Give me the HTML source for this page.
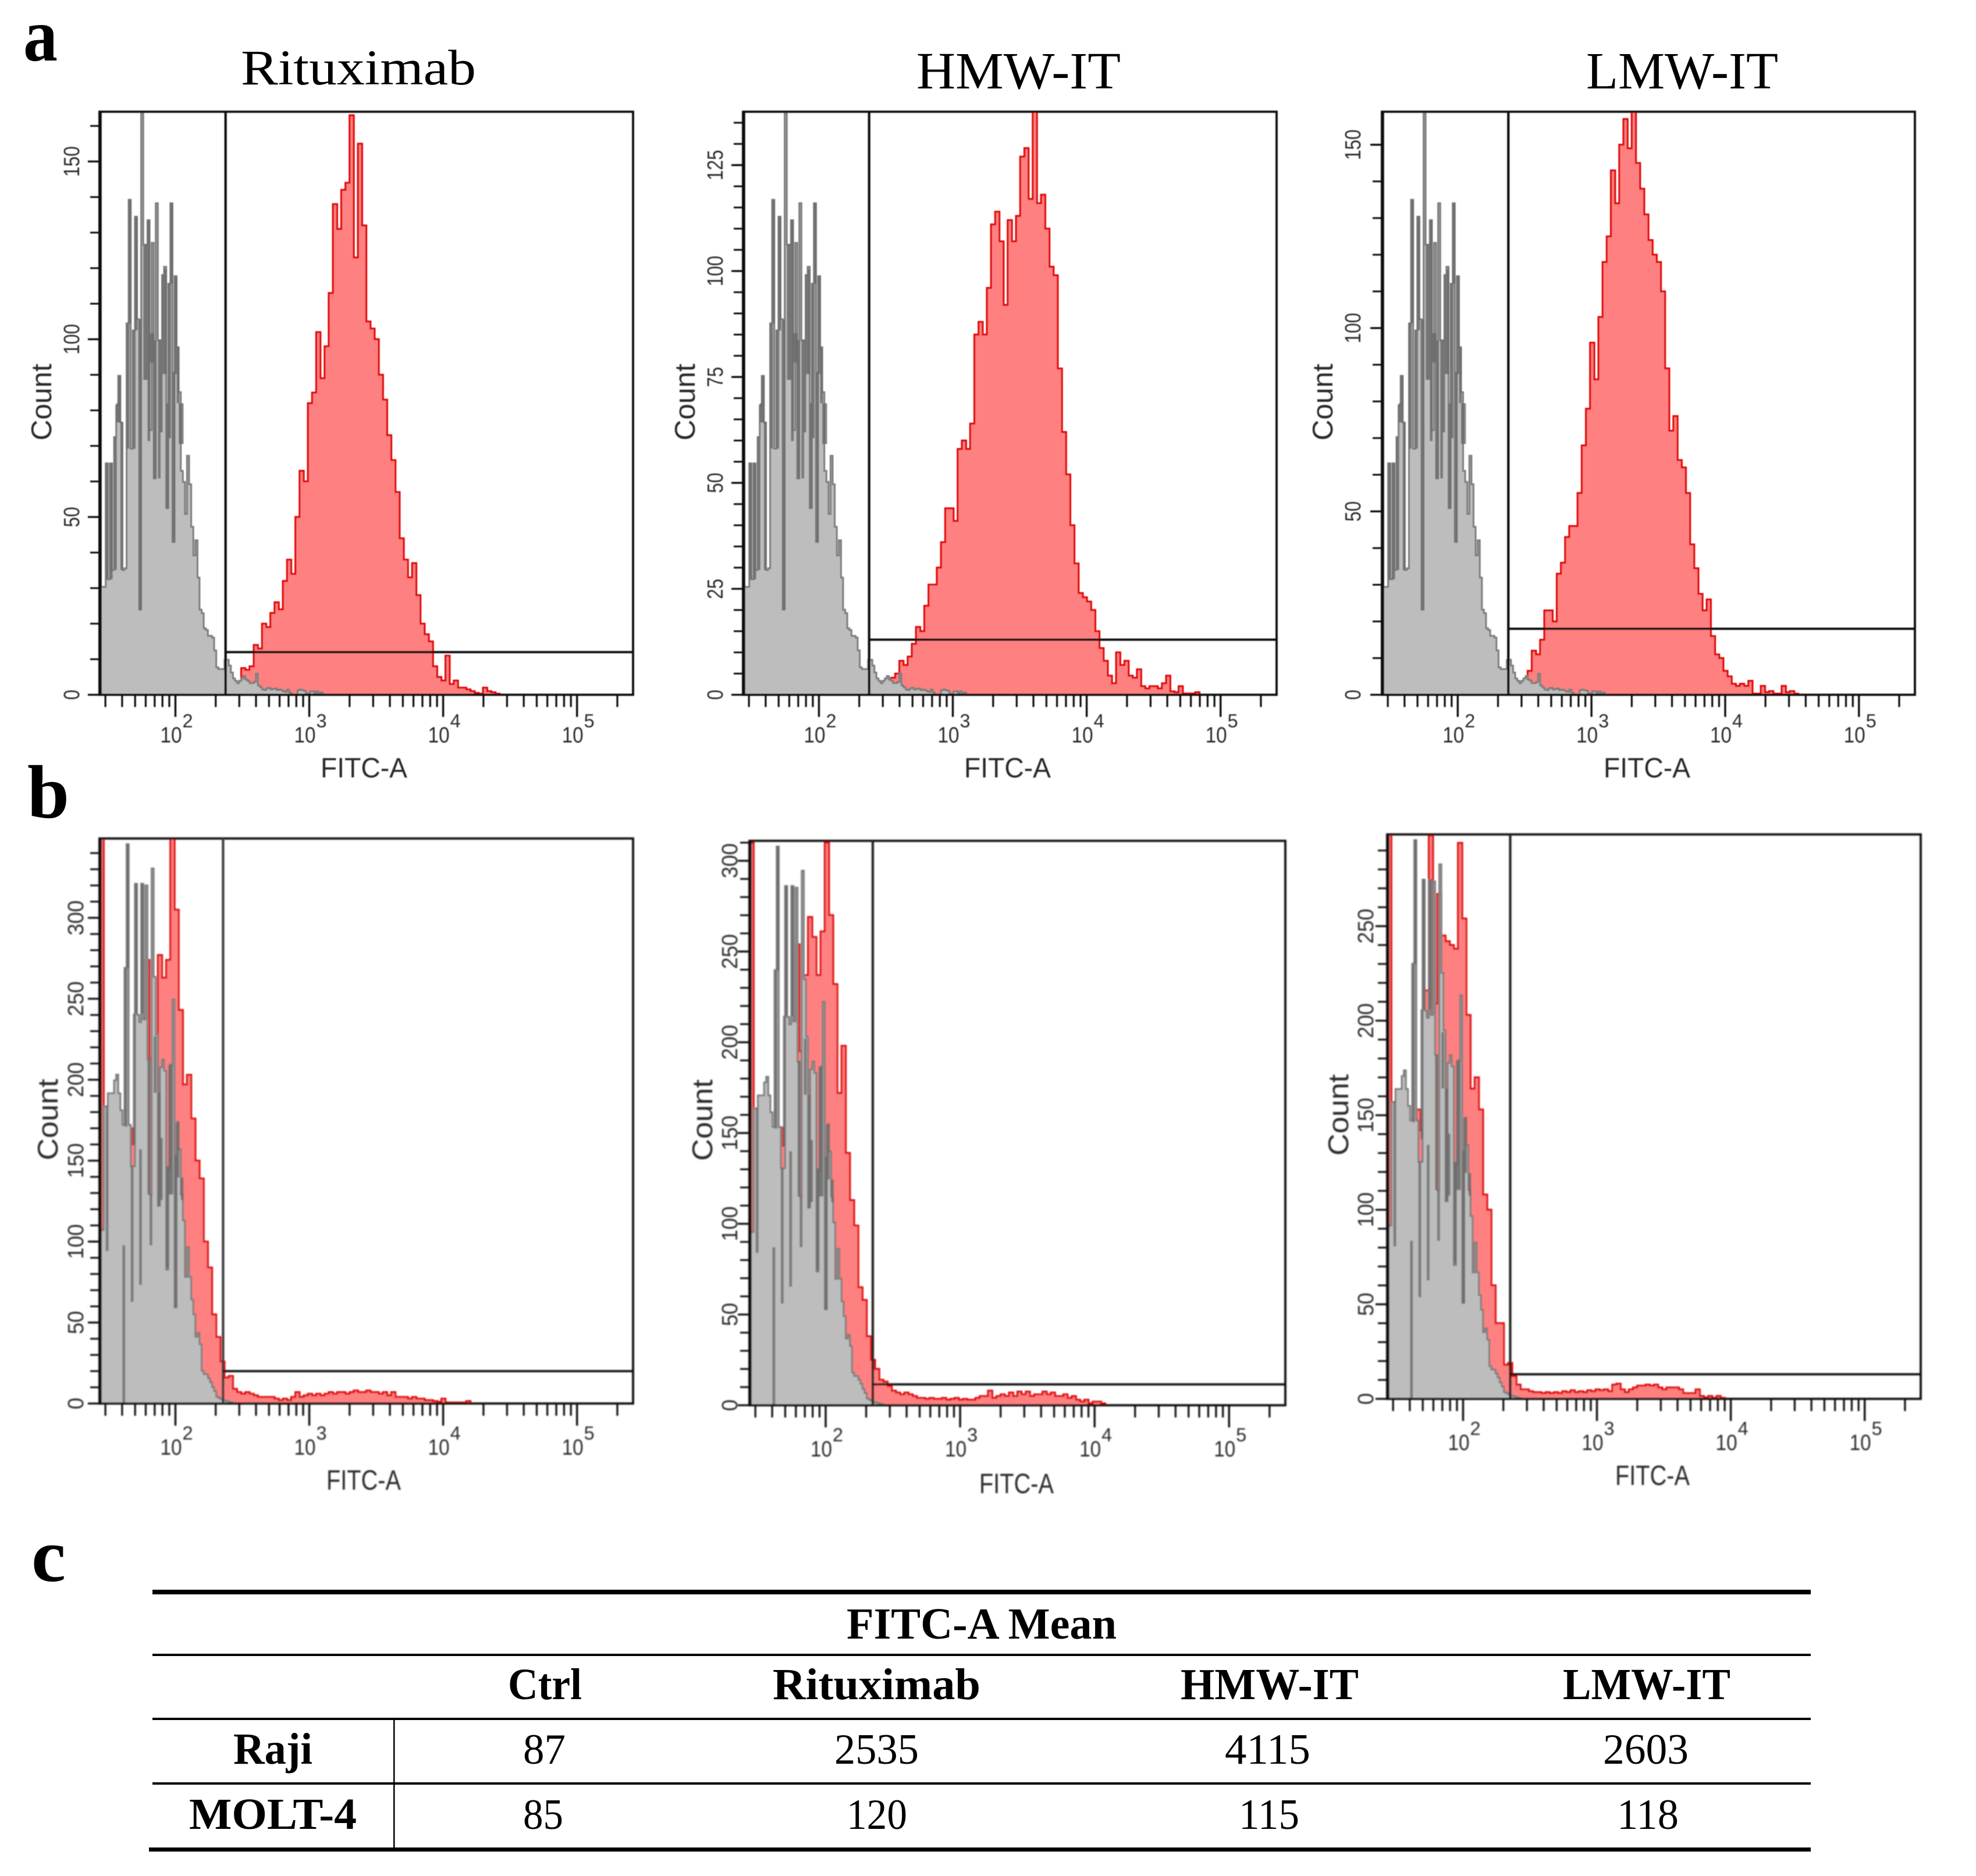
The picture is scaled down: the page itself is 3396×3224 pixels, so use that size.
<!DOCTYPE html>
<html lang="en">
<head>
<meta charset="utf-8">
<title>FITC-A flow cytometry histograms</title>
<style>
html,body{margin:0;padding:0;background:#fff;}
svg{display:block;}
.serif{font-family:"Liberation Serif",serif;fill:#000;}
.sans{font-family:"Liberation Sans",sans-serif;fill:#2a2a2a;}
</style>
</head>
<body>
<svg id="figure" xmlns="http://www.w3.org/2000/svg" width="3396" height="3224" viewBox="0 0 3396 3224">
  <defs>
    <filter id="soft" filterUnits="userSpaceOnUse" x="0" y="0" width="3396" height="3224"><feGaussianBlur stdDeviation="0.8"/></filter>
    <filter id="softer" filterUnits="userSpaceOnUse" x="0" y="0" width="3396" height="3224"><feGaussianBlur stdDeviation="1.1"/></filter>
  </defs>
  <rect width="3396" height="3224" fill="#fff"/>

  <text class="serif" x="40" y="104" font-size="130" font-weight="bold" textLength="59" lengthAdjust="spacingAndGlyphs">a</text>
  <text class="serif" x="47" y="1405" font-size="130" font-weight="bold" textLength="72" lengthAdjust="spacingAndGlyphs">b</text>
  <text class="serif" x="54" y="2717" font-size="130" font-weight="bold" textLength="59" lengthAdjust="spacingAndGlyphs">c</text>

  <text class="serif" x="414" y="145" font-size="86" textLength="404" lengthAdjust="spacingAndGlyphs">Rituximab</text>
  <text class="serif" x="1575" y="152" font-size="90" textLength="351" lengthAdjust="spacingAndGlyphs">HMW-IT</text>
  <text class="serif" x="2726" y="152" font-size="90" textLength="330" lengthAdjust="spacingAndGlyphs">LMW-IT</text>

  <g id="charts"></g>

  <g>
    <rect x="262" y="2732" width="2850" height="8" fill="#000"/>
    <rect x="262" y="2842" width="2850" height="4" fill="#000"/>
    <rect x="262" y="2952" width="2850" height="4" fill="#000"/>
    <rect x="262" y="3063" width="2850" height="4" fill="#000"/>
    <rect x="256" y="3175" width="2856" height="7" fill="#000"/>
    <rect x="676" y="2955" width="2.5" height="220" fill="#000"/>

    <text class="serif" x="1455" y="2816" font-size="76" font-weight="bold" textLength="464" lengthAdjust="spacingAndGlyphs">FITC-A Mean</text>
    <text class="serif" x="873" y="2920" font-size="76" font-weight="bold" textLength="127" lengthAdjust="spacingAndGlyphs">Ctrl</text>
    <text class="serif" x="1328" y="2920" font-size="76" font-weight="bold" textLength="357" lengthAdjust="spacingAndGlyphs">Rituximab</text>
    <text class="serif" x="2029" y="2920" font-size="76" font-weight="bold" textLength="306" lengthAdjust="spacingAndGlyphs">HMW-IT</text>
    <text class="serif" x="2686" y="2920" font-size="76" font-weight="bold" textLength="288" lengthAdjust="spacingAndGlyphs">LMW-IT</text>

    <text class="serif" x="401" y="3031" font-size="76" font-weight="bold" textLength="136" lengthAdjust="spacingAndGlyphs">Raji</text>
    <text class="serif" x="899" y="3031" font-size="74" textLength="73" lengthAdjust="spacingAndGlyphs">87</text>
    <text class="serif" x="1434" y="3031" font-size="74" textLength="145" lengthAdjust="spacingAndGlyphs">2535</text>
    <text class="serif" x="2105" y="3031" font-size="74" textLength="147" lengthAdjust="spacingAndGlyphs">4115</text>
    <text class="serif" x="2755" y="3031" font-size="74" textLength="147" lengthAdjust="spacingAndGlyphs">2603</text>

    <text class="serif" x="325" y="3143" font-size="76" font-weight="bold" textLength="288" lengthAdjust="spacingAndGlyphs">MOLT-4</text>
    <text class="serif" x="899" y="3143" font-size="74" textLength="69" lengthAdjust="spacingAndGlyphs">85</text>
    <text class="serif" x="1455" y="3143" font-size="74" textLength="104" lengthAdjust="spacingAndGlyphs">120</text>
    <text class="serif" x="2129" y="3143" font-size="74" textLength="104" lengthAdjust="spacingAndGlyphs">115</text>
    <text class="serif" x="2779" y="3143" font-size="74" textLength="106" lengthAdjust="spacingAndGlyphs">118</text>
  </g>
</svg>

<script>
// Control (grey) overlays: percent of panel height per channel, from channel 0.
const controlRaji = [18.5,18.5,18.5,39.7,19.8,39.7,21.4,44.2,49.6,54.7,46.7,21.4,21.7,63.7,84.9,42.2,62.5,82,64.4,14.6,99.7,77.2,77.2,81.4,45.4,77.5,37.1,84.3,60.8,60.8,72,73.4,32,70.5,84.3,26.2,71.8,59.6,51.9,38.4,36.5,31,41,36.1,28.8,23.9,26.5,20.1,14.6,14,11.4,11.1,10.1,10.1,9.8,7.6,4.7,4.4,4.4,4.4,6,6,5,3.8,2.8,2.4,2,2.4,2.8,3.2,2.6,2.4,2,2,2.2,3.6,1.6,1.3,0.9,0.8,1.1,1.2,0.9,1,1.1,0.8,0.9,0.8,0.6,0.5,0.9,0.4,0,0,0,0.8,0.9,0.8,0.7,0.2,0.2,0.6,0.6,0.3,0.6,0.2,0.4,0];
const controlMolt = [30.7,30.7,52.6,52.6,54.9,54.9,54.9,57.2,58.2,54.9,51.9,49.3,77.1,99,49.3,42,42,92,68.8,67.5,92,68,91.7,60.9,37,94.7,75.5,65.3,35,59.5,60.9,58.9,23.7,41.6,60,71.5,17,49.6,45,37,32.4,22.4,27.7,22.4,18.4,15.8,11.8,12.5,10.5,5.8,5.2,5.2,4.5,3.8,2.9,2.2,1.2,1,0.8,0.6,0.5,0.4,0.3,0.2,0];

// Dense darker bands inside the control overlays (percent of panel height, per channel).
const controlRajiBandHigh = [0,0,0,39.7,0,39.7,0,44.2,50,54.7,46.7,0,0,63.7,84.9,0,62.5,82,0,64.4,0,77.2,77.2,81.4,62,62,60.8,0,60.8,60.8,72,73,50,70.5,84.3,55.4,71.8,59.6,50,50];
const controlRajiBandLow = [0,0,0,19.8,0,19.8,0,21.4,46.7,46.7,21.4,0,0,42.2,63.7,0,42.2,62.5,0,14.6,0,54,54,43.5,57,57,37.1,0,37.1,45,55,55,32,44,70.5,26.2,55,50,43,43];
const controlMoltBandHigh = [0,0,0,52.6,0,0,0,0,0,0,0,28,77,99,0,42,69,92,0,45,92,0,0,61,37,0,65,0,55,47,0,0,42,60,60,0,44,50,0,40];
const controlMoltBandLow = [0,0,0,27,0,0,0,0,0,0,0,0,49,77,0,18,46,69,0,21,69,0,0,37,28,0,55,0,35,36,0,0,24,37,37,0,17,40,0,36];

// Stained (red) histograms: counts per two-channel bin.
const rajiRituximab = [7.5,7,8,14,13,20,19,23,26,24,32,38,34,50,63,60,82,85,102,89,98,113,138,131,142,144,163,123,155,132,105,103,100,90,83,73,66,57,44,38,33,37,28,20,17,15,8,5,4,11,3,4,2,2,1.5,1,0.5,0.3,2,1,0.7,0.3];
const rajiRituximabStart = 68;
const rajiHmw = [4,5,8,7,9,12,16,15,21,26,26,30,36,44,44,41,58,60,58,64,85,88,85,96,111,114,107,92,112,107,113,127,129,117,138,116,118,110,101,99,77,62,52,40,31,24,23,22,20,15,11,8,4.5,2.7,10,7,8,4.5,4,6,2,1.5,2,2,1.5,2.7,4.5,0.8,0.6,2,0.3,0.3,0.3,0.6];
const rajiHmwStart = 71;
const rajiLmw = [6.5,12,11,15,23,23,20,33,36,43,46,46,55,68,78,96,86,103,118,125,143,134,150,157,149,159,145,138,131,124,120,118,110,89,72,76,64,62,55,41,34.5,27.5,23,26,16,11,10,6.5,5,3,2.4,3,2.4,3.8,0.3,0.3,2.4,0.7,1,0.3,0.3,2.4,0.7,1,0.3];
const rajiLmwStart = 70;
const moltRituximab = [349,95,95,95,100,120,152,170,160,175,238,274,213,192,277,263,274,349,305,243,197,203,176,150,139,100,84,55,41,26,16,17,9,7,6,7,6,5,4,4,4,4,3,2,3,2,4,7,4,5,6,5,6,5,6,7,6,7,7,6,7,8,7,7,8,7,7,6,7,5,7,4,4,4,3,4,3,3,2,2,1.5,1,3,0.6,0.6,0.6,0.6,0.6,1.5];
const moltRituximabStart = 0;
const moltHmw = [310,70,90,90,78,113,92,153,143,209,214,254,195,237,269,258,237,261,310,270,232,172,198,139,113,99,65,58,38,25,20,14,13,10.6,8,7,6,7,6,5,4,4,3.5,4,3.5,3.5,4,3,3.5,4,3,3.5,3,3,4,5,5,8,4,5,6,5,7,5,7.5,6,7.5,5,6,6,7.5,6,7,5,5,6,4,5,3,2,3,1,2,2,1];
const moltHmwStart = 0;
const moltLmw = [300,74,124,124,79,85,148,153,142,216,298,209,267,245,242,240,238,294,254,203,164,170,153,108,100,60,40,40,18,19,12,7.5,5,5,4,3.5,3.5,3,3.5,3,3.5,3,4,3.5,4.5,3.5,4,3.5,4.5,4,5,4.5,5,4,7.5,8,5,3.5,5,6,7,7,7.5,7,7.5,6,5,6,6,6,5,3,3,3,5,1.5,0.7,1.5,0.5,1.5,0.5];
const moltLmwStart = 0;

// Axis tick values.
const fitcDecades = [2, 3, 4, 5];
const fitcMinorFactors = [2, 3, 4, 5, 6, 7, 8, 9];
const countTicksRajiRituximab = [0, 50, 100, 150];
const countTicksRajiHmw = [0, 25, 50, 75, 100, 125];
const countTicksRajiLmw = [0, 50, 100, 150];
const countTicksMoltRituximab = [0, 50, 100, 150, 200, 250, 300];
const countTicksMoltHmw = [0, 50, 100, 150, 200, 250, 300];
const countTicksMoltLmw = [0, 50, 100, 150, 200, 250];

const SVG_NS = 'http://www.w3.org/2000/svg';
const FITC_MIN = 27.1;
const FITC_MAX = 262144;
const CHANNELS = 256;

function make(parent, tag, attrs, text) {
  const node = document.createElementNS(SVG_NS, tag);
  for (const key in attrs) node.setAttribute(key, attrs[key]);
  if (text !== undefined) node.textContent = text;
  parent.appendChild(node);
  return node;
}

function drawPanel(parent, p) {
  const logMin = Math.log10(FITC_MIN);
  const logMax = Math.log10(FITC_MAX);
  const xScale = v => p.left + (Math.log10(v) - logMin) / (logMax - logMin) * (p.right - p.left);
  const yScale = c => p.bottom - c / p.yMax * (p.bottom - p.top);
  const channelX = ch => xScale(Math.pow(10, logMin + ch * (logMax - logMin) / CHANNELS));
  const pctToCount = v => v / 100 * p.yMax;

  const stepPath = (values, start, width, toCount) => {
    let d = 'M' + channelX(start).toFixed(1) + ' ' + p.bottom;
    values.forEach((v, i) => {
      const y = yScale(toCount(v)).toFixed(1);
      d += 'L' + channelX(start + i * width).toFixed(1) + ' ' + y;
      d += 'L' + channelX(start + (i + 1) * width).toFixed(1) + ' ' + y;
    });
    return d + 'L' + channelX(start + values.length * width).toFixed(1) + ' ' + p.bottom + 'Z';
  };

  const group = make(parent, 'g', { filter: 'url(#' + p.blur + ')' });
  
  

  const clip = make(group, 'clipPath', { id: 'clip-' + p.name });
  make(clip, 'rect', { x: p.left, y: p.top, width: p.right - p.left, height: p.bottom - p.top });

  const marks = make(group, 'g', { 'clip-path': 'url(#clip-' + p.name + ')' });
  
  

  const red = make(marks, 'path', {
    d: stepPath(p.red, p.redStart, 2, v => v),
    fill: '#ff8080', stroke: '#e00000', 'stroke-width': 3.2
  });
  
  

  const grey = make(marks, 'path', {
    d: stepPath(p.control, 0, 1, v => pctToCount(v)),
    fill: '#bdbdbd', stroke: '#7c7c7c', 'stroke-width': 3
  });
  
  

  p.bandHigh.forEach((high, ch) => {
    if (high <= 0) return;
    const x0 = channelX(ch);
    const x1 = channelX(ch + 1);
    const yTop = yScale(pctToCount(high));
    const yBot = yScale(pctToCount(p.bandLow[ch]));
    const band = make(marks, 'rect', {
      x: x0, y: yTop, width: x1 - x0 + 1.2, height: yBot - yTop, fill: '#6a6a6a', 'fill-opacity': 0.82
    });
    
    
  });

  const axes = make(group, 'g', { stroke: '#111', fill: 'none' });
  
  

  const frame = make(axes, 'rect', {
    x: p.left, y: p.top, width: p.right - p.left, height: p.bottom - p.top, 'stroke-width': 3.8
  });
  
  

  const spine = make(axes, 'line', {
    x1: p.left + 1, x2: p.left + 1, y1: p.top, y2: p.bottom, 'stroke-width': 5.5
  });
  
  

  const gateLine = make(axes, 'line', {
    x1: xScale(p.gateFitc), x2: xScale(p.gateFitc), y1: p.top, y2: p.bottom, 'stroke-width': 4.2, stroke: p.gateColor
  });
  
  

  const thresh = make(axes, 'line', {
    x1: xScale(p.gateFitc), x2: p.right, y1: yScale(p.gateCount), y2: yScale(p.gateCount), 'stroke-width': 3.8
  });
  
  

  // Log x axis.
  const decadeRange = [1].concat(fitcDecades);
  decadeRange.forEach(dec => {
    fitcMinorFactors.forEach(f => {
      const v = f * Math.pow(10, dec);
      if (v < 30 || v > 200000) return;
      const t = make(axes, 'line', {
        x1: xScale(v), x2: xScale(v), y1: p.bottom, y2: p.bottom + 21, 'stroke-width': 3.2
      });
      
      
    });
  });
  fitcDecades.forEach(dec => {
    const x = xScale(Math.pow(10, dec));
    const t = make(axes, 'line', {
      x1: x, x2: x, y1: p.bottom, y2: p.bottom + 38, 'stroke-width': 3.4
    });
    
    

    const base = make(group, 'text', {
      class: 'sans', x: x - 26, y: p.bottom + p.tickBase, 'font-size': 38,
      textLength: 37, lengthAdjust: 'spacingAndGlyphs'
    }, '10');
    
    

    const sup = make(group, 'text', {
      class: 'sans', x: x + 12, y: p.bottom + p.tickBase - 26, 'font-size': 32,
      textLength: 18, lengthAdjust: 'spacingAndGlyphs'
    }, String(dec));
    
    
  });

  // Linear y axis.
  for (let c = 0; c <= p.yMax; c += p.minorStep) {
    const t = make(axes, 'line', {
      x1: p.left - 16, x2: p.left, y1: yScale(c), y2: yScale(c), 'stroke-width': 3
    });
    
    
  }
  p.ticks.forEach(c => {
    const y = yScale(c);
    const t = make(axes, 'line', {
      x1: p.left - 20, x2: p.left, y1: y, y2: y, 'stroke-width': 3.2
    });
    
    

    const lx = p.left - p.labelGap;
    const label = make(group, 'text', {
      class: 'sans', x: lx, y: y, 'font-size': 38, 'text-anchor': 'middle',
      transform: 'rotate(-90 ' + lx + ' ' + y + ')',
      textLength: String(c).length * p.digitLen, lengthAdjust: 'spacingAndGlyphs'
    }, String(c));
    
    
  });

  const yTitle = make(group, 'text', {
    class: 'sans', x: p.countX, y: p.countY, 'font-size': 49, 'text-anchor': 'middle',
    transform: 'rotate(-90 ' + p.countX + ' ' + p.countY + ')',
    textLength: p.countLen, lengthAdjust: 'spacingAndGlyphs'
  }, 'Count');
  
  

  const xTitle = make(group, 'text', {
    class: 'sans', x: p.fitcX, y: p.fitcY, 'font-size': 48,
    textLength: p.fitcLen, lengthAdjust: 'spacingAndGlyphs'
  }, 'FITC-A');
  
  
}

const root = document.getElementById('charts');

drawPanel(root, { name: 'raji-rituximab', left: 171, right: 1088, top: 192, bottom: 1194, yMax: 164,
  gateFitc: 237, gateCount: 12, minorStep: 10, ticks: countTicksRajiRituximab, blur: 'soft', gateColor: '#111',
  control: controlRaji, bandHigh: controlRajiBandHigh, bandLow: controlRajiBandLow, red: rajiRituximab, redStart: rajiRituximabStart,
  labelGap: 35, digitLen: 17.5, tickBase: 82, countX: 88, countY: 691, countLen: 132,
  fitcX: 551, fitcY: 1336, fitcLen: 149 });

drawPanel(root, { name: 'raji-hmw-it', left: 1277, right: 2194, top: 192, bottom: 1194, yMax: 137.6,
  gateFitc: 237, gateCount: 13, minorStep: 5, ticks: countTicksRajiHmw, blur: 'soft', gateColor: '#111',
  control: controlRaji, bandHigh: controlRajiBandHigh, bandLow: controlRajiBandLow, red: rajiHmw, redStart: rajiHmwStart,
  labelGap: 35, digitLen: 17.5, tickBase: 82, countX: 1194, countY: 691, countLen: 132,
  fitcX: 1657, fitcY: 1336, fitcLen: 149 });

drawPanel(root, { name: 'raji-lmw-it', left: 2375, right: 3291, top: 192, bottom: 1194, yMax: 159,
  gateFitc: 239, gateCount: 18, minorStep: 10, ticks: countTicksRajiLmw, blur: 'soft', gateColor: '#111',
  control: controlRaji, bandHigh: controlRajiBandHigh, bandLow: controlRajiBandLow, red: rajiLmw, redStart: rajiLmwStart,
  labelGap: 37, digitLen: 17.5, tickBase: 82, countX: 2290, countY: 691, countLen: 132,
  fitcX: 2756, fitcY: 1336, fitcLen: 149 });

drawPanel(root, { name: 'molt-rituximab', left: 171, right: 1088, top: 1441, bottom: 2412, yMax: 349,
  gateFitc: 227, gateCount: 20, minorStep: 10, ticks: countTicksMoltRituximab, blur: 'softer', gateColor: '#3a3a3a',
  control: controlMolt, bandHigh: controlMoltBandHigh, bandLow: controlMoltBandLow, red: moltRituximab, redStart: moltRituximabStart,
  labelGap: 28, digitLen: 20, tickBase: 88, countX: 99, countY: 1924, countLen: 140,
  fitcX: 561, fitcY: 2560, fitcLen: 128 });

drawPanel(root, { name: 'molt-hmw-it', left: 1288, right: 2209, top: 1445, bottom: 2415, yMax: 311,
  gateFitc: 224, gateCount: 11.5, minorStep: 10, ticks: countTicksMoltHmw, blur: 'softer', gateColor: '#222',
  control: controlMolt, bandHigh: controlMoltBandHigh, bandLow: controlMoltBandLow, red: moltHmw, redStart: moltHmwStart,
  labelGap: 21, digitLen: 20, tickBase: 88, countX: 1224, countY: 1925, countLen: 140,
  fitcX: 1683, fitcY: 2566, fitcLen: 128 });

drawPanel(root, { name: 'molt-lmw-it', left: 2384, right: 3301, top: 1434, bottom: 2404, yMax: 298.5,
  gateFitc: 225, gateCount: 13, minorStep: 10, ticks: countTicksMoltLmw, blur: 'softer', gateColor: '#222',
  control: controlMolt, bandHigh: controlMoltBandHigh, bandLow: controlMoltBandLow, red: moltLmw, redStart: moltLmwStart,
  labelGap: 24, digitLen: 20, tickBase: 88, countX: 2317, countY: 1916, countLen: 140,
  fitcX: 2776, fitcY: 2552, fitcLen: 128 });
</script>
</body>
</html>
